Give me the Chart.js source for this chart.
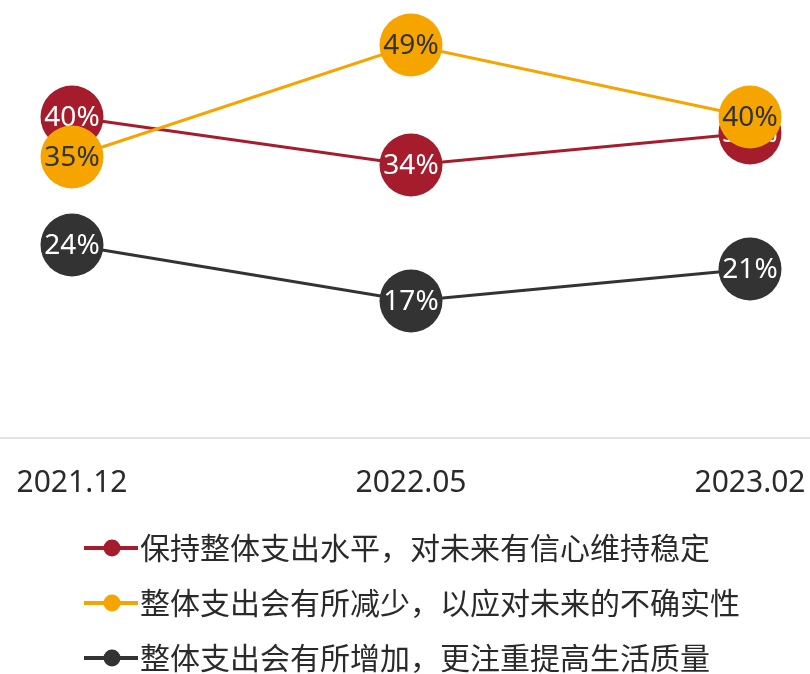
<!DOCTYPE html>
<html>
<head>
<meta charset="utf-8">
<script src="https://cdn.jsdelivr.net/npm/chart.js@4/dist/chart.umd.min.js"></script>
<style>
  html, body { margin: 0; padding: 0; background: #fff; overflow: hidden; }
  #wrap { width: 810px; height: 683px; position: relative; }
</style>
</head>
<body>
<div id="wrap"><canvas id="c"></canvas></div>
<script>
const categories = ['2021.12', '2022.05', '2023.02'];
const seriesNames = [
  '保持整体支出水平，对未来有信心维持稳定',
  '整体支出会有所减少，以应对未来的不确实性',
  '整体支出会有所增加，更注重提高生活质量'
];
const keepLevel = [40, 34, 38];
const reduce = [35, 49, 40];
const increase = [24, 17, 21];

const colors = ['#a51d2d', '#f5a400', '#333333'];
const labelColors = ['#ffffff', '#333333', '#ffffff'];

// little line + dot used as legend marker
function legendMarker(color) {
  const c = document.createElement('canvas');
  c.width = 54; c.height = 20;
  const ctx = c.getContext('2d');
  ctx.strokeStyle = color;
  ctx.lineWidth = 4;
  ctx.beginPath();
  ctx.moveTo(0, 10); ctx.lineTo(54, 10);
  ctx.stroke();
  ctx.fillStyle = color;
  ctx.beginPath();
  ctx.arc(28, 10, 8.5, 0, Math.PI * 2);
  ctx.fill();
  return c;
}

// value labels drawn with each dataset so overlap order follows the datasets
const pointLabels = {
  id: 'pointLabels',
  afterDatasetDraw(chart, args) {
    const ctx = chart.ctx;
    const ds = chart.data.datasets[args.index];
    ctx.save();
    ctx.font = '28px "Noto Sans", sans-serif';
    ctx.textAlign = 'center';
    ctx.textBaseline = 'middle';
    ctx.fillStyle = ds.labelColor;
    args.meta.data.forEach((pt, i) => {
      ctx.fillText(ds.data[i] + '%', pt.x, pt.y + 1);
    });
    ctx.restore();
  }
};

// light baseline across the whole width
const baseLine = {
  id: 'baseLine',
  beforeDatasetsDraw(chart) {
    const ctx = chart.ctx;
    const y = chart.scales.y.getPixelForValue(0);
    ctx.save();
    ctx.strokeStyle = '#e2e2e2';
    ctx.lineWidth = 2;
    ctx.beginPath();
    ctx.moveTo(0, y + 1);
    ctx.lineTo(chart.width, y + 1);
    ctx.stroke();
    ctx.restore();
  }
};

const values = [keepLevel, reduce, increase];

new Chart(document.getElementById('c'), {
  type: 'line',
  data: {
    labels: categories,
    datasets: values.map((v, i) => ({
      label: seriesNames[i],
      data: v,
      borderColor: colors[i],
      backgroundColor: colors[i],
      pointBackgroundColor: colors[i],
      pointBorderWidth: 0,
      pointRadius: 31.5,
      pointHoverRadius: 31.5,
      borderWidth: 3,
      tension: 0,
      clip: false,
      order: 3 - i,
      labelColor: labelColors[i],
      pointStyle: 'circle'
    }))
  },
  options: {
    responsive: true,
    maintainAspectRatio: false,
    animation: false,
    events: [],
    layout: { padding: { left: 72, right: 60, top: 37, bottom: 0 } },
    scales: {
      x: {
        grid: { display: false, drawTicks: false },
        border: { display: false },
        ticks: {
          color: '#2a2a2a',
          font: { family: '"Noto Sans", sans-serif', size: 30 },
          padding: 28
        },
        afterFit(scale) {
          scale.height = 71;
          scale.paddingLeft = 0;
          scale.paddingRight = 0;
        }
      },
      y: {
        display: false,
        min: 0,
        max: 50
      }
    },
    plugins: {
      tooltip: { enabled: false },
      legend: {
        position: 'bottom',
        align: 'start',
        labels: {
          usePointStyle: true,
          pointStyleWidth: 28,
          padding: 25,
          color: '#2a2a2a',
          font: { family: '"Noto Sans CJK SC", sans-serif', size: 30 },
          sort: (a, b) => a.datasetIndex - b.datasetIndex,
          generateLabels(chart) {
            return chart.data.datasets.map((ds, i) => ({
              text: ds.label,
              datasetIndex: i,
              pointStyle: legendMarker(colors[i]),
              fillStyle: colors[i],
              strokeStyle: colors[i],
              lineWidth: 0,
              fontColor: '#2a2a2a',
              hidden: false
            }));
          }
        }
      }
    }
  },
  plugins: [baseLine, pointLabels]
});
</script>
</body>
</html>
